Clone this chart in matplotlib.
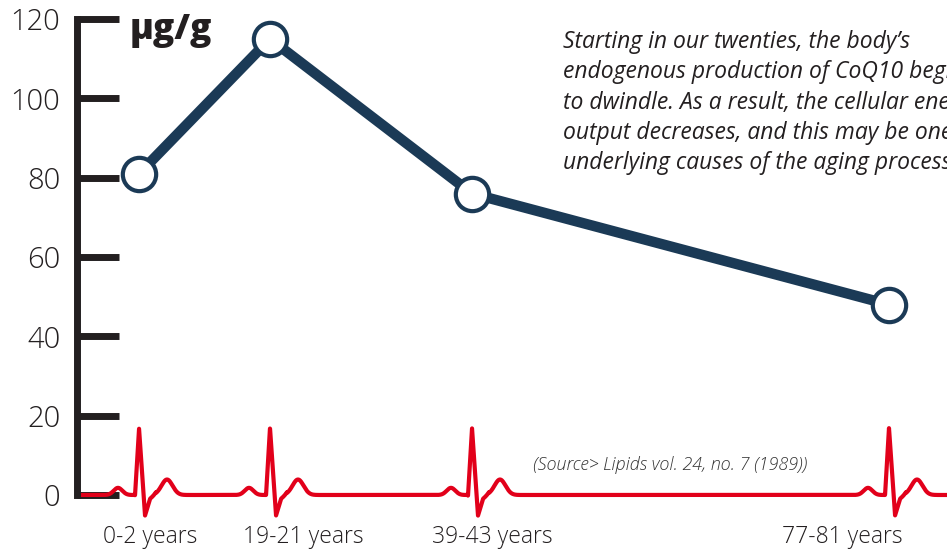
import numpy as np
import matplotlib
matplotlib.use("Agg")
import matplotlib.pyplot as plt

# ---- data ----
categories = ["0-2 years", "19-21 years", "39-43 years", "77-81 years"]
coq10 = [81, 115, 76, 48]
y_ticks = [0, 20, 40, 60, 80, 100, 120]
unit_label = "μg/g"
note_lines = [
    "Starting in our twenties, the body’s",
    "endogenous production of CoQ10 begins",
    "to dwindle. As a result, the cellular energy",
    "output decreases, and this may be one of the",
    "underlying causes of the aging process.",
]
source = "(Source> Lipids vol. 24, no. 7 (1989))"

# ---- layout (horizontal positions in pixel-like units) ----
point_x = [139, 270, 472, 889]
label_x = [150, 303, 492, 842]

NAVY = "#1b3a56"
RED = "#e2001a"
INK = "#231f20"

fig = plt.figure(figsize=(9.47, 5.49), dpi=100)
ax = fig.add_axes([0, 0, 1, 1])
ax.set_xlim(0, 947)
ax.set_ylim(-13.62, 124.8)
ax.patch.set_alpha(0)

for s in ["top", "right", "bottom"]:
    ax.spines[s].set_visible(False)
ax.spines["left"].set_position(("data", 77))
ax.spines["left"].set_bounds(0, 120)
ax.spines["left"].set_linewidth(5)
ax.spines["left"].set_color(INK)
ax.spines["left"].set_capstyle("projecting")
ax.set_yticks(y_ticks)
ax.set_yticklabels([str(t) for t in y_ticks], fontfamily="Open Sans",
                   fontweight="light", fontsize=21, color=INK)
ax.tick_params(axis="y", direction="in", length=30, width=5, pad=12, color=INK)
ax.set_xticks([])

# ECG decoration along the baseline (shape template relative to each category)
xs = np.linspace(78, 947, 8000)
ecg = np.zeros_like(xs)
qrs_dx = [-4, 0, 6, 11, 17]
qrs_dy = [-0.2, 16.9, -5.2, -1.0, 0.2]
for c in point_x:
    ecg += 1.8 * np.exp(-0.5 * ((xs - (c - 21)) / 4.3) ** 2)
    ecg += 3.9 * np.exp(-0.5 * ((xs - (c + 28)) / 5.5) ** 2)
    rel = xs - c
    m = (rel >= qrs_dx[0]) & (rel <= qrs_dx[-1])
    ecg[m] += np.interp(rel[m], qrs_dx, qrs_dy)
ax.plot(xs, ecg, color=RED, lw=3, solid_joinstyle="round", solid_capstyle="butt", zorder=2)

# main series
ax.plot(point_x, coq10, color=NAVY, lw=7.5, zorder=3, solid_capstyle="round")
ax.plot(point_x, coq10, linestyle="none", marker="o", ms=24, mfc="white",
        mec=NAVY, mew=3, zorder=4)

# category labels
for lx, cat in zip(label_x, categories):
    ax.text(lx, -10.6, cat, ha="center", va="center", fontsize=16.5,
            fontfamily="Open Sans", fontweight="light", color=INK)

# unit label
ax.text(130, 124.8 - 30 / 3.966, unit_label, ha="left", va="center", fontsize=25.5,
        fontweight="heavy", fontfamily="Open Sans", color=INK)

# note (runs off the right edge, as in the original)
for i, line in enumerate(note_lines):
    y = (495 - (42 + i * 30.3)) / 3.966
    ax.text(563, y, line, ha="left", va="center", fontsize=16.5, style="italic",
            fontfamily="Open Sans", color=INK, clip_on=False)

ax.text(533, (495 - 465) / 3.966, source, ha="left", va="center", fontsize=13,
        style="italic", fontfamily="Open Sans", fontweight="light", color="#333333")

fig.savefig("out.png", dpi=100)
